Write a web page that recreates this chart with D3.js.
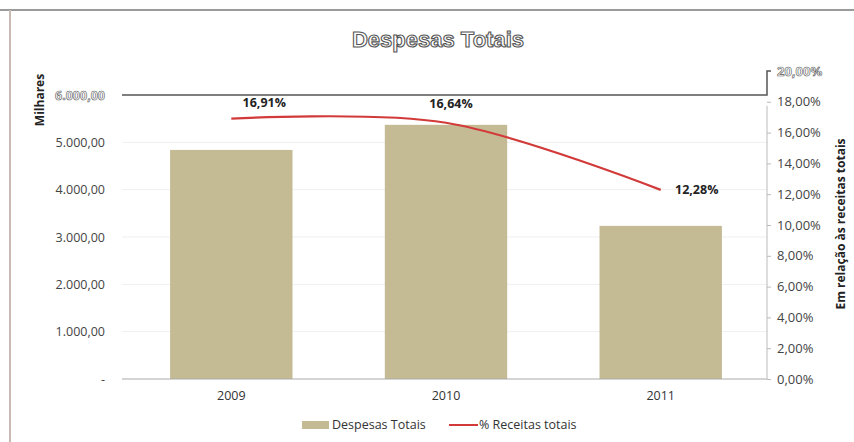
<!DOCTYPE html>
<html><head><meta charset="utf-8">
<script src="https://cdn.jsdelivr.net/npm/d3@7"></script>
<style>body{margin:0;background:#fff}svg{display:block;font-family:"Open Sans","Liberation Sans",sans-serif}</style>
</head><body><svg id="c" width="854" height="442"></svg>
<script>
const categories = ["2009","2010","2011"];
const despesas = [4840, 5370, 3235];
const percReceitas = [16.91, 16.64, 12.28];
const percLabels = ["16,91%","16,64%","12,28%"];
const leftTicks = [0,1000,2000,3000,4000,5000,6000];
const rightTicks = [0,2,4,6,8,10,12,14,16,18,20];

const svg = d3.select("#c");
const L = 122, R = 767, T = 95, B = 379;
const x = d3.scaleBand().domain(categories).range([L+3, R]).paddingInner(0.43).paddingOuter(0.21);
const y = d3.scaleLinear().domain([0,6000]).range([B,T]);
const y2 = d3.scaleLinear().domain([0,20]).range([B,71]);
const fmtL = v => v===0 ? "-" : d3.format(",.2f")(v).replace(/,/g,"#").replace(/\./g,",").replace(/#/g,".");
const fmtR = v => d3.format(".2f")(v).replace(".",",")+"%";

// frame
svg.append("line").attr("x1",0).attr("x2",854).attr("y1",10).attr("y2",10).attr("stroke","#9a9a9a").attr("stroke-width",2);
svg.append("line").attr("x1",10).attr("x2",10).attr("y1",10).attr("y2",442).attr("stroke","#c9b9b3").attr("stroke-width",2);

// gridlines
svg.append("g").selectAll("line").data(leftTicks.filter(d=>d>0&&d<6000)).join("line")
  .attr("x1",L).attr("x2",R).attr("y1",d=>y(d)).attr("y2",d=>y(d)).attr("stroke","#efefef");

// bars
svg.append("g").selectAll("rect").data(despesas).join("rect")
  .attr("x",(d,i)=>x(categories[i])).attr("width",x.bandwidth())
  .attr("y",d=>y(d)).attr("height",d=>B-y(d)).attr("fill","#c4bb94");

// top line & step
svg.append("path").attr("d",`M${L},${T}H${R}V${y2(20)}h4`).attr("fill","none").attr("stroke","#555").attr("stroke-width",1.5);
// bottom axis
svg.append("line").attr("x1",L).attr("x2",R).attr("y1",B).attr("y2",B).attr("stroke","#aaa");

// left axis
const la = svg.append("g").attr("transform",`translate(${L-14},0)`)
  .call(d3.axisLeft(y).tickValues(leftTicks).tickSize(0).tickFormat(fmtL));
la.select(".domain").remove();
la.selectAll("text").attr("font-size",12.5).attr("fill","#444").attr("font-family","'Open Sans',sans-serif");
la.selectAll(".tick").filter(d=>d===6000).select("text").attr("fill","#fff").attr("stroke","#555").attr("stroke-width",0.6).attr("font-weight","bold");

// right axis
const ra = svg.append("g").attr("transform",`translate(${R},0)`)
  .call(d3.axisRight(y2).tickValues(rightTicks).tickSize(4).tickPadding(6).tickFormat(fmtR));
ra.select(".domain").attr("stroke","#bbb").attr("d",`M0,${y2(18)+4}V${B}`);
ra.selectAll(".tick line").attr("stroke","#bbb");
ra.selectAll("text").attr("font-size",13).attr("fill","#444").attr("font-family","'Open Sans',sans-serif");
ra.selectAll(".tick").filter(d=>d===20).select("line").remove();
ra.selectAll(".tick").filter(d=>d===20).select("text").attr("fill","#fff").attr("stroke","#555").attr("stroke-width",0.6).attr("font-weight","bold");

// x labels
svg.append("g").selectAll("text").data(categories).join("text")
  .attr("x",d=>x(d)+x.bandwidth()/2).attr("y",400).attr("text-anchor","middle")
  .attr("font-size",12.5).attr("fill","#333").text(d=>d);

// line
const cx = i => x(categories[i])+x.bandwidth()/2;
const line = d3.line().x((d,i)=>cx(i)).y(d=>y2(d)).curve(d3.curveCatmullRom.alpha(0.5));
svg.append("path").datum(percReceitas).attr("d",line).attr("fill","none").attr("stroke","#d23a3a").attr("stroke-width",2.2);

// data labels
const lblOff = [[33,-12],[5,-15],[36,4]];
svg.append("g").selectAll("text").data(percReceitas).join("text")
  .attr("x",(d,i)=>cx(i)+lblOff[i][0]).attr("y",(d,i)=>y2(d)+lblOff[i][1])
  .attr("text-anchor","middle").attr("font-size",12.5).attr("font-weight","bold").attr("fill","#222")
  .text((d,i)=>percLabels[i]);

// title
svg.append("text").attr("x",438).attr("y",47).attr("text-anchor","middle")
  .attr("font-family","Liberation Sans,Arial,sans-serif").attr("font-size",22).attr("font-weight","bold")
  .attr("fill","#fff").attr("stroke","#555").attr("stroke-width",1.1).text("Despesas Totais");

// axis titles
svg.append("text").attr("transform","translate(44,100) rotate(-90)").attr("text-anchor","middle")
  .attr("font-size",12).attr("font-weight","bold").attr("fill","#222").text("Milhares");
svg.append("text").attr("transform","translate(845,224) rotate(-90)").attr("text-anchor","middle")
  .attr("font-size",12).attr("font-weight","bold").attr("fill","#222").text("Em relação às receitas totais");

// legend
const lg = svg.append("g");
lg.append("rect").attr("x",302).attr("y",421).attr("width",27).attr("height",8).attr("fill","#c4bb94");
lg.append("text").attr("x",332).attr("y",429).attr("font-size",12.5).attr("fill","#333").text("Despesas Totais");
lg.append("line").attr("x1",449).attr("x2",478).attr("y1",425).attr("y2",425).attr("stroke","#d23a3a").attr("stroke-width",2);
lg.append("text").attr("x",479).attr("y",429).attr("font-size",12.5).attr("fill","#333").text("% Receitas totais");
</script></body></html>
